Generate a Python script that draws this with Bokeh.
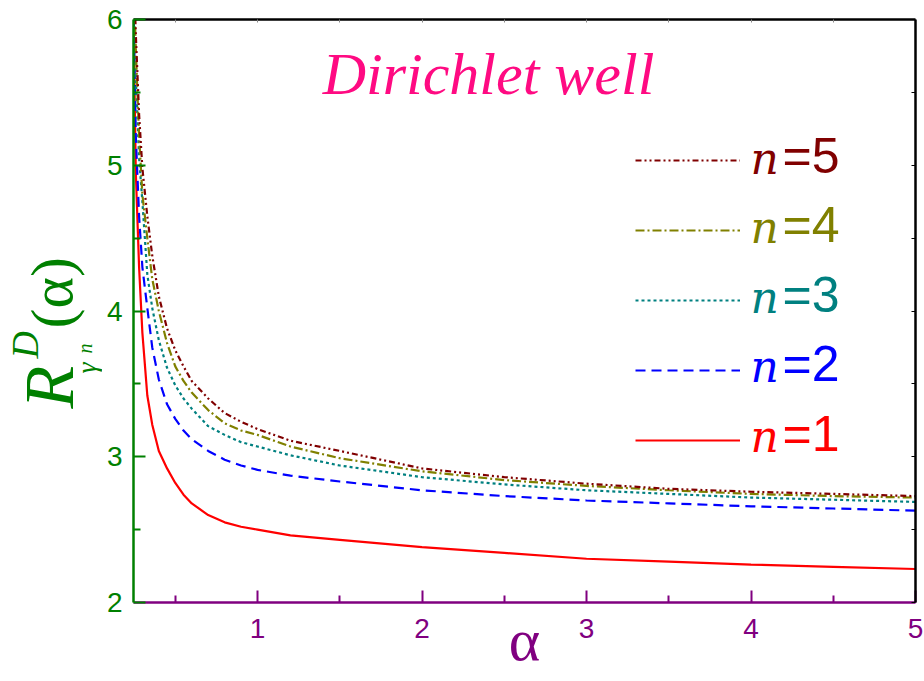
import math
from bokeh.plotting import figure
from bokeh.layouts import row
from bokeh.models import (Range1d, LinearAxis, FixedTicker, Label, Legend, LegendItem,
                          CustomJSTickFormatter)
from bokeh.embed import file_html
from bokeh.resources import INLINE

# ---------------- data ----------------
alpha = [0.246, 0.26, 0.28, 0.30, 0.33, 0.36, 0.40, 0.45, 0.50, 0.55, 0.60, 0.70, 0.80,
         0.90, 1.0, 1.2, 1.5, 2.0, 2.5, 3.0, 3.5, 4.0, 4.5, 5.0]
r_n1 = [6.00, 4.95, 4.30, 3.85, 3.42, 3.22, 3.04, 2.92, 2.82, 2.74, 2.68, 2.60, 2.55,
        2.52, 2.50, 2.46, 2.43, 2.38, 2.34, 2.30, 2.28, 2.26, 2.245, 2.23]
r_n2 = [6.10, 5.20, 4.65, 4.30, 4.02, 3.75, 3.53, 3.36, 3.26, 3.18, 3.12, 3.04, 2.98,
        2.94, 2.91, 2.87, 2.83, 2.77, 2.73, 2.70, 2.68, 2.66, 2.645, 2.63]
r_n3 = [6.20, 5.60, 5.05, 4.75, 4.25, 4.02, 3.80, 3.61, 3.49, 3.40, 3.33, 3.21, 3.15,
        3.10, 3.07, 3.01, 2.94, 2.86, 2.81, 2.77, 2.745, 2.72, 2.705, 2.69]
r_n4 = [6.30, 5.80, 5.20, 4.80, 4.50, 4.22, 4.00, 3.78, 3.62, 3.52, 3.44, 3.32, 3.23,
        3.18, 3.15, 3.07, 2.99, 2.90, 2.84, 2.80, 2.77, 2.745, 2.73, 2.72]
r_n5 = [6.40, 5.90, 5.35, 4.98, 4.65, 4.38, 4.10, 3.88, 3.73, 3.62, 3.52, 3.40, 3.30,
        3.24, 3.19, 3.11, 3.04, 2.92, 2.86, 2.815, 2.78, 2.76, 2.745, 2.73]

series_labels = ["1", "2", "3", "4", "5"]
x_ticks = [1, 2, 3, 4, 5]
x_minor = [0.5, 1.5, 2.5, 3.5, 4.5]
y_ticks = [2, 3, 4, 5, 6]
y_minor = [2.5, 3.5, 4.5, 5.5]
title_text = "Dirichlet well"
x_label = "α"

# ---------------- styling ----------------
colors = ["#ff0000", "#0000ff", "#008080", "#808000", "#800000"]
dashes = ["solid", "10 6", "3 3", "9 3 2 3", "6 3 2 3 2 3"]
GREEN = "#008000"
PURPLE = "#800080"
LEFT_W = 102

# ---------- left strip holding the rotated y-axis label ----------
pl = figure(frame_width=LEFT_W, frame_height=681, output_backend="svg",
            toolbar_location=None,
            x_range=Range1d(0, LEFT_W), y_range=Range1d(0, 681),
            x_axis_type=None, y_axis_type=None,
            min_border_left=0, min_border_right=0, min_border_top=0, min_border_bottom=0)
pl.grid.visible = False
pl.outline_line_color = None
pl.border_fill_color = "white"

rot = math.pi / 2
def ylab(x, y, text, size, style="italic"):
    pl.add_layout(Label(x=x, y=y, x_units="screen", y_units="screen", text=text,
                        angle=rot, text_font="Liberation Serif",
                        text_font_style=style, text_font_size=size,
                        text_color=GREEN, text_baseline="bottom", text_align="left"))

ylab(87, 292, "R", "70px")
ylab(45, 342, "D", "38px")
ylab(101, 327, "γ", "28px")
ylab(95, 347, "n", "20px")
ylab(84, 372, "(α)", "60px", "normal")

# ---------- main plot ----------
p = figure(width=924 - LEFT_W, height=681, output_backend="svg", toolbar_location=None,
           x_range=Range1d(0.246, 5.0), y_range=Range1d(2, 6),
           x_axis_type=None, y_axis_type=None,
           min_border_left=133 - LEFT_W, min_border_right=9, min_border_top=19,
           min_border_bottom=79)
p.grid.visible = False
p.outline_line_color = None
p.background_fill_color = "white"
p.border_fill_color = "white"

# bottom axis (purple)
xa = LinearAxis(ticker=FixedTicker(ticks=x_ticks, minor_ticks=x_minor))
xa.axis_line_color = PURPLE
xa.axis_line_width = 2.5
xa.major_tick_line_color = PURPLE
xa.minor_tick_line_color = PURPLE
xa.major_tick_line_width = 2
xa.minor_tick_line_width = 2
xa.major_tick_in = 12
xa.major_tick_out = 0
xa.minor_tick_in = 7
xa.minor_tick_out = 0
xa.major_label_text_color = PURPLE
xa.major_label_text_font = "Liberation Sans"
xa.major_label_text_font_size = "28px"
xa.major_label_standoff = 16
xa.axis_label = x_label
xa.axis_label_text_font = "Liberation Serif"
xa.axis_label_text_font_style = "normal"
xa.axis_label_text_font_size = "60px"
xa.axis_label_text_color = PURPLE
xa.axis_label_standoff = -34
p.add_layout(xa, "below")

# left axis (green)
ya = LinearAxis(ticker=FixedTicker(ticks=y_ticks, minor_ticks=y_minor))
ya.axis_line_color = GREEN
ya.axis_line_width = 2.5
ya.major_tick_line_color = GREEN
ya.minor_tick_line_color = GREEN
ya.major_tick_line_width = 2
ya.minor_tick_line_width = 2
ya.major_tick_in = 12
ya.major_tick_out = 0
ya.minor_tick_in = 7
ya.minor_tick_out = 0
ya.major_label_text_color = GREEN
ya.major_label_text_font = "Liberation Sans"
ya.major_label_text_font_size = "28px"
ya.major_label_standoff = 11
p.add_layout(ya, "left")

# top and right frame axes (black, small inward ticks, no labels)
blank = CustomJSTickFormatter(code="return '';")
ta = LinearAxis(ticker=FixedTicker(ticks=x_ticks, minor_ticks=x_minor), formatter=blank)
ta.axis_line_color = "black"
ta.axis_line_width = 2.5
ta.major_tick_line_color = "#888888"
ta.minor_tick_line_color = "#888888"
ta.major_tick_in = 3
ta.major_tick_out = 0
ta.minor_tick_in = 3
ta.minor_tick_out = 0
ta.major_label_text_font_size = "1px"
ta.major_label_standoff = 0
p.add_layout(ta, "above")

ra = LinearAxis(ticker=FixedTicker(ticks=y_ticks, minor_ticks=y_minor), formatter=blank)
ra.axis_line_color = "black"
ra.axis_line_width = 2.5
ra.major_tick_line_color = "black"
ra.minor_tick_line_color = "black"
ra.major_tick_in = 4
ra.major_tick_out = 0
ra.minor_tick_in = 4
ra.minor_tick_out = 0
ra.major_label_text_font_size = "1px"
ra.major_label_standoff = 0
p.add_layout(ra, "right")

# curves
all_series = [r_n1, r_n2, r_n3, r_n4, r_n5]
renderers = []
for ys, c, d in zip(all_series, colors, dashes):
    r = p.line(alpha, ys, line_color=c, line_width=2.2, line_dash=d)
    renderers.append(r)

# legend (line samples only; texts drawn as labels)
order = [4, 3, 2, 1, 0]
items = [LegendItem(label=" ", renderers=[renderers[i]]) for i in order]
leg = Legend(items=items, location=(502, 152), orientation="vertical",
             glyph_width=105, glyph_height=20, label_height=20, label_width=0,
             spacing=50, padding=0, margin=0, border_line_color=None,
             background_fill_alpha=0, label_standoff=0,
             label_text_font_size="1px")
p.add_layout(leg)

for k, i in enumerate(order):
    fy = 419 - 69.5 * k
    p.add_layout(Label(x=617, y=fy, x_units="screen", y_units="screen", text="n",
                       text_font="DejaVu Serif", text_font_style="italic",
                       text_font_size="44px", text_color=colors[i],
                       text_baseline="bottom"))
    p.add_layout(Label(x=649, y=fy, x_units="screen", y_units="screen",
                       text="=" + series_labels[i],
                       text_font="Liberation Sans", text_font_size="50px",
                       text_color=colors[i], text_baseline="bottom"))

# title
p.add_layout(Label(x=355, y=496, x_units="screen", y_units="screen", text=title_text,
                   text_font="Liberation Serif", text_font_style="italic",
                   text_font_size="60px", text_color="#ff0a82", text_align="center",
                   text_baseline="bottom"))

layout = row(pl, p, spacing=0)
open("out.html", "w").write(file_html(layout, INLINE))
